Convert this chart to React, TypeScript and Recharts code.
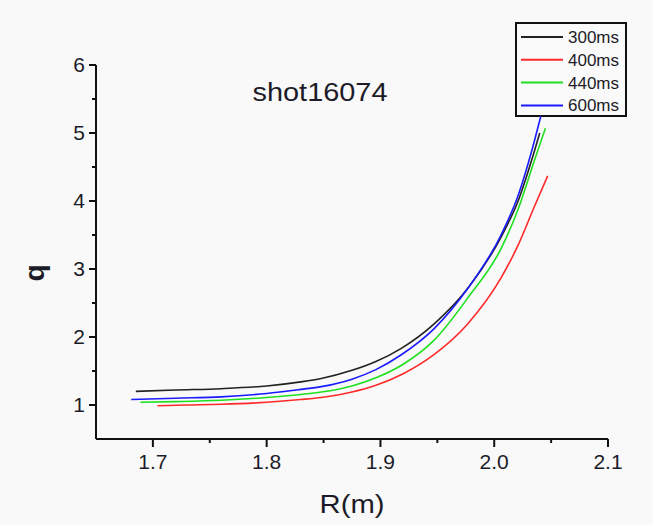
import React from 'react';
import { LineChart, Line, XAxis, YAxis } from 'recharts';

// R (m) and q, per time slice
const r300 = [1.685, 1.72, 1.76, 1.8, 1.83, 1.848, 1.875, 1.896, 1.918, 1.947, 1.977, 2.006, 2.021, 2.0356, 2.04];
const q300 = [1.2, 1.22, 1.24, 1.28, 1.34, 1.39, 1.51, 1.64, 1.83, 2.19, 2.72, 3.47, 4.0, 4.75, 5.0];

const r400 = [1.704, 1.73, 1.76, 1.8, 1.83, 1.848, 1.875, 1.896, 1.92, 1.947, 1.977, 2.006, 2.021, 2.0356, 2.047];
const q400 = [0.99, 1.0, 1.01, 1.04, 1.08, 1.11, 1.19, 1.29, 1.46, 1.74, 2.2, 2.87, 3.35, 3.93, 4.37];

const r440 = [1.689, 1.72, 1.76, 1.8, 1.83, 1.848, 1.875, 1.896, 1.92, 1.947, 1.977, 2.006, 2.021, 2.0356, 2.045];
const q440 = [1.04, 1.05, 1.07, 1.11, 1.155, 1.19, 1.28, 1.4, 1.6, 1.95, 2.58, 3.3, 3.88, 4.61, 5.07];

const r600 = [1.681, 1.72, 1.76, 1.8, 1.83, 1.848, 1.875, 1.896, 1.918, 1.947, 1.977, 2.006, 2.021, 2.0356, 2.041];
const q600 = [1.08, 1.1, 1.12, 1.17, 1.23, 1.27, 1.38, 1.52, 1.735, 2.12, 2.72, 3.5, 4.08, 4.9, 5.25];

const xTicks = [1.7, 1.75, 1.8, 1.85, 1.9, 1.95, 2.0, 2.05, 2.1];
const yTicks = [1, 1.5, 2, 2.5, 3, 3.5, 4, 4.5, 5, 5.5, 6];

const toRows = (rs: number[], qs: number[]) => rs.map((r, i) => ({ r, q: qs[i] }));

const series = [
  { name: '300ms', color: '#222222', data: toRows(r300, q300) },
  { name: '400ms', color: '#ff2a2a', data: toRows(r400, q400) },
  { name: '440ms', color: '#1ee01e', data: toRows(r440, q440) },
  { name: '600ms', color: '#1a1aff', data: toRows(r600, q600) },
];

const FONT = '"Liberation Sans", Arial, sans-serif';
const INK = '#1c1c28';

const isMajor = (v: number, step: number) => Math.abs(v / step - Math.round(v / step)) < 1e-6;

const XTick = (props: any) => {
  const { x, y, payload } = props;
  const major = isMajor(payload.value, 0.1);
  return (
    <g>
      <line x1={x} x2={x} y1={y} y2={y + (major ? 8 : 4)} stroke="#111" strokeWidth={2} />
      {major && (
        <text x={x} y={y + 30} textAnchor="middle" fontSize={21} fontFamily={FONT} fill={INK}>
          {payload.value.toFixed(1)}
        </text>
      )}
    </g>
  );
};

const YTick = (props: any) => {
  const { x, y, payload } = props;
  const major = isMajor(payload.value, 1);
  return (
    <g>
      <line x1={x} x2={x - (major ? 7 : 4)} y1={y} y2={y} stroke="#111" strokeWidth={2} />
      {major && (
        <text x={x - 11} y={y + 7} textAnchor="end" fontSize={21} fontFamily={FONT} fill={INK}>
          {payload.value}
        </text>
      )}
    </g>
  );
};

// legend box drawn in the svg so it doesn't eat plot space
const LegendBox = ({ x, y }: { x: number; y: number }) => (
  <g transform={`translate(${x} ${y})`}>
    <rect x={1} y={1} width={110} height={93} fill="#fafafa" stroke="#111" strokeWidth={2} />
    {series.map((s, i) => {
      const cy = 15 + i * 22.8;
      return (
        <g key={s.name}>
          <line x1={6} x2={48} y1={cy} y2={cy} stroke={s.color} strokeWidth={2} />
          <text x={53} y={cy + 6} fontSize={17} fontFamily={FONT} fill={INK}>
            {s.name}
          </text>
        </g>
      );
    })}
  </g>
);

export default function App() {
  return (
    <div style={{ position: 'absolute', left: 0, top: 0, width: 653, height: 525, background: '#f9f9f9' }}>
      <LineChart width={653} height={525} margin={{ top: 65, right: 45, bottom: 56, left: 56 }}>
        <XAxis
          type="number"
          dataKey="r"
          domain={[1.65, 2.1]}
          ticks={xTicks}
          allowDataOverflow
          height={30}
          tickSize={0}
          tickMargin={0}
          tickLine={false}
          axisLine={{ stroke: '#111', strokeWidth: 2 }}
          tick={<XTick />}
        />
        <YAxis
          type="number"
          domain={[0.5, 6]}
          ticks={yTicks}
          allowDataOverflow
          width={40}
          tickSize={0}
          tickMargin={0}
          tickLine={false}
          axisLine={{ stroke: '#111', strokeWidth: 2 }}
          tick={<YTick />}
        />
        {series.map((s) => (
          <Line
            key={s.name}
            data={s.data}
            dataKey="q"
            name={s.name}
            type="monotone"
            stroke={s.color}
            strokeWidth={1.6}
            dot={false}
            isAnimationActive={false}
          />
        ))}
        <LegendBox x={515} y={22} />
        <text x={320} y={101} textAnchor="middle" fontSize={26} fontFamily={FONT} fill={INK} textLength={135} lengthAdjust="spacingAndGlyphs">
          shot16074
        </text>
        <text x={352} y={513} textAnchor="middle" fontSize={25} fontFamily={FONT} fill={INK} textLength={65} lengthAdjust="spacingAndGlyphs">
          R(m)
        </text>
        <text x={44} y={273} textAnchor="middle" fontSize={28} fontWeight="bold" fontFamily={FONT} fill={INK} transform="rotate(-90 44 273)">
          q
        </text>
      </LineChart>
    </div>
  );
}
